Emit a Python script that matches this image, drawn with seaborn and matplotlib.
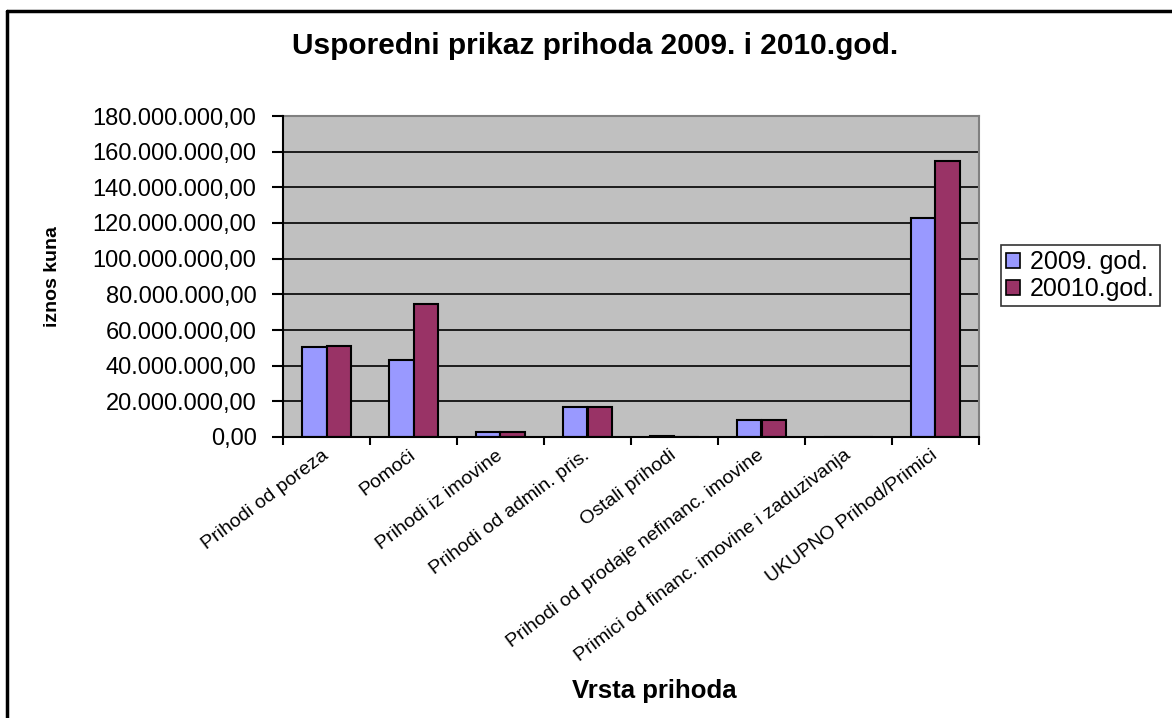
import numpy as np
import pandas as pd
import seaborn as sns
import matplotlib.pyplot as plt
from matplotlib.lines import Line2D
from matplotlib.ticker import FuncFormatter, FixedLocator

categories = [
    "Prihodi od poreza",
    "Pomoći",
    "Prihodi iz imovine",
    "Prihodi od admin. pris.",
    "Ostali prihodi",
    "Prihodi od prodaje nefinanc. imovine",
    "Primici od financ. imovine i zaduzivanja",
    "UKUPNO Prihod/Primici",
]
series_names = ["2009. god.", "20010.god."]
values_2009 = [50.3e6, 43.4e6, 2.6e6, 16.6e6, 0.6e6, 9.5e6, 0.0, 122.6e6]
values_2010 = [51.0e6, 74.4e6, 2.6e6, 16.6e6, 0.0, 9.5e6, 0.0, 154.8e6]
colors = ["#9999FF", "#993366"]

df = pd.DataFrame({
    "kategorija": categories * 2,
    "godina": [series_names[0]] * len(categories) + [series_names[1]] * len(categories),
    "iznos": values_2009 + values_2010,
})

sns.set_theme(style="white")
plt.rcParams["font.family"] = ["Liberation Sans", "DejaVu Sans"]
plt.rcParams["text.color"] = "black"
plt.rcParams["axes.labelcolor"] = "black"
plt.rcParams["xtick.color"] = "black"
plt.rcParams["ytick.color"] = "black"

fig = plt.figure(figsize=(11.72, 7.18), dpi=100)
ax = fig.add_axes([283 / 1172, 1 - 437 / 718, (979 - 283) / 1172, (437 - 116) / 718])
ax.set_facecolor("#C0C0C0")

sns.barplot(data=df, x="kategorija", y="iznos", hue="godina", palette=colors,
            saturation=1, width=0.572, edgecolor="black", linewidth=1.5, ax=ax,
            legend=False, zorder=3)

ax.set_ylim(0, 180e6)
ax.set_xlim(-0.5, len(categories) - 0.5)
ax.yaxis.set_major_locator(FixedLocator(np.arange(0, 180e6 + 1, 20e6)))
ax.yaxis.set_major_formatter(FuncFormatter(
    lambda v, p: f"{v:,.2f}".replace(",", "X").replace(".", ",").replace("X", ".")))
ax.grid(axis="y", color="black", linewidth=1.2, zorder=1)
ax.set_axisbelow(True)

for side in ["left", "bottom"]:
    ax.spines[side].set_color("black")
    ax.spines[side].set_linewidth(1.5)
    ax.spines[side].set_zorder(5)
for side in ["top", "right"]:
    ax.spines[side].set_color("#808080")
    ax.spines[side].set_linewidth(1.5)

ax.tick_params(axis="y", direction="out", length=8, width=1.5, color="black",
               labelsize=17, pad=11, left=True)
ax.set_xticks(range(len(categories)))
ax.set_xticks(np.arange(-0.5, len(categories), 1.0), minor=True)
ax.tick_params(axis="x", which="major", length=0, pad=12)
ax.tick_params(axis="x", which="minor", direction="out", length=6, width=1.5,
               color="black", bottom=True)
ax.set_xticklabels(categories, rotation=37, ha="right", va="center",
                   rotation_mode="anchor", fontsize=14)

ax.set_xlabel("Vrsta prihoda", fontsize=18.5, fontweight="bold")
ax.xaxis.set_label_coords((654 - 283) / 696, -0.755)
ax.set_ylabel("iznos kuna", fontsize=14, fontweight="bold")
ax.yaxis.set_label_coords((61 - 283) / 696, 0.5)

fig.text(595 / 1172, 1 - 46 / 718, "Usporedni prikaz prihoda 2009. i 2010.god.",
         ha="center", va="center", fontsize=21.5, fontweight="bold")

handles = [plt.Rectangle((0, 0), 1, 1, facecolor=c, edgecolor="black", linewidth=1.2)
           for c in colors]
leg = fig.legend(handles, series_names, loc="upper left",
                 bbox_to_anchor=(1001 / 1172, 1 - 245 / 718), fontsize=18,
                 frameon=True, fancybox=False, edgecolor="black",
                 handlelength=0.55, handleheight=0.55, handletextpad=0.4,
                 borderpad=0.2, labelspacing=0.12, borderaxespad=0)
leg.get_frame().set_linewidth(1.2)

# outer chart border (top and left edges visible)
fig.add_artist(Line2D([7 / 1172, 7 / 1172], [0, 1 - 11 / 718], color="black",
                      linewidth=2.5, transform=fig.transFigure))
fig.add_artist(Line2D([7 / 1172, 1], [1 - 11 / 718, 1 - 11 / 718], color="black",
                      linewidth=2.5, transform=fig.transFigure))

fig.savefig("out.png", dpi=100)
plt.close(fig)
